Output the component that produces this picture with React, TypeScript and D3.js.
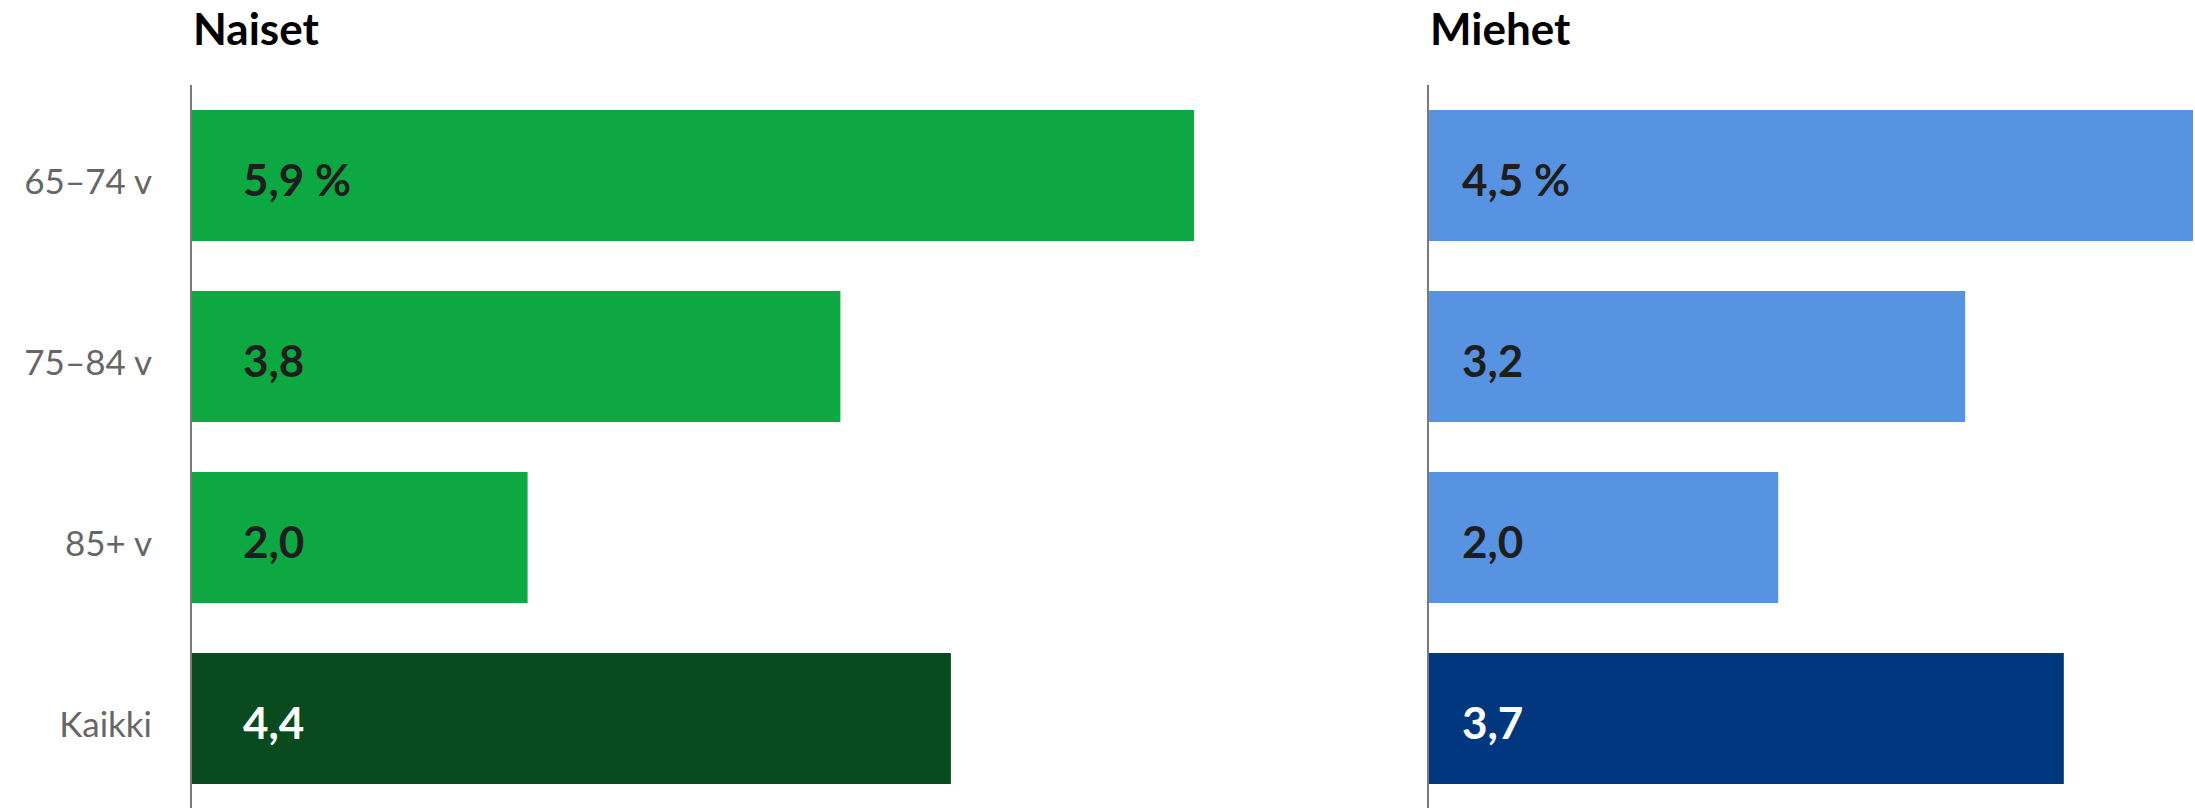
import { useEffect } from "react";
import { scaleBand, scaleLinear } from "d3";

const W = 2195;
const H = 808;

const categories = ["65–74 v", "75–84 v", "85+ v", "Kaikki"];
const naiset = [5.9, 3.82, 1.98, 4.47];
const miehet = [4.5, 3.16, 2.06, 3.74];
const naisetLabels = ["5,9 %", "3,8", "2,0", "4,4"];
const miehetLabels = ["4,5 %", "3,2", "2,0", "3,7"];

const PX_PER_UNIT = 170;
const FONT = "Lato, 'Open Sans', sans-serif";

type Panel = {
  title: string;
  x0: number;
  labelDx: number;
  values: number[];
  labels: string[];
  color: string;
  totalColor: string;
};

const panels: Panel[] = [
  { title: "Naiset", x0: 191, labelDx: 52, values: naiset, labels: naisetLabels, color: "#0ea843", totalColor: "#094b1f" },
  { title: "Miehet", x0: 1428, labelDx: 34, values: miehet, labels: miehetLabels, color: "#5893e1", totalColor: "#00377e" },
];

export default function App() {
  useEffect(() => {
    document.body.style.margin = "0";
  }, []);

  const y = scaleBand<string>().domain(categories).range([110, 784]).paddingInner(50 / 181).paddingOuter(0);

  return (
    <svg width={W} height={H} viewBox={`0 0 ${W} ${H}`} style={{ display: "block", background: "#fff" }} fontFamily={FONT}>
      {categories.map((c) => (
        <text
          key={c}
          x={152}
          y={(y(c) ?? 0) + y.bandwidth() / 2 + 18}
          textAnchor="end"
          fontSize={35}
          fill="#666"
        >
          {c}
        </text>
      ))}

      {panels.map((p) => {
        const x = scaleLinear().domain([0, 1]).range([p.x0, p.x0 + PX_PER_UNIT]);
        return (
          <g key={p.title}>
            <text x={p.x0 + 2} y={45} fontSize={44} fontWeight={700} fill="#000">
              {p.title}
            </text>
            {categories.map((c, i) => {
              const last = i === categories.length - 1;
              const top = y(c) ?? 0;
              return (
                <g key={c}>
                  <rect
                    x={x(0)}
                    y={top}
                    width={x(p.values[i]) - x(0)}
                    height={y.bandwidth()}
                    fill={last ? p.totalColor : p.color}
                  />
                  <text
                    x={p.x0 + p.labelDx}
                    y={top + y.bandwidth() / 2 + 20}
                    fontSize={44}
                    fontWeight={700}
                    fill={last ? "#fff" : "#1e1e1e"}
                  >
                    {p.labels[i]}
                  </text>
                </g>
              );
            })}
            <line x1={p.x0} x2={p.x0} y1={85} y2={H} stroke="#7a7a7a" strokeWidth={2} />
          </g>
        );
      })}
    </svg>
  );
}
